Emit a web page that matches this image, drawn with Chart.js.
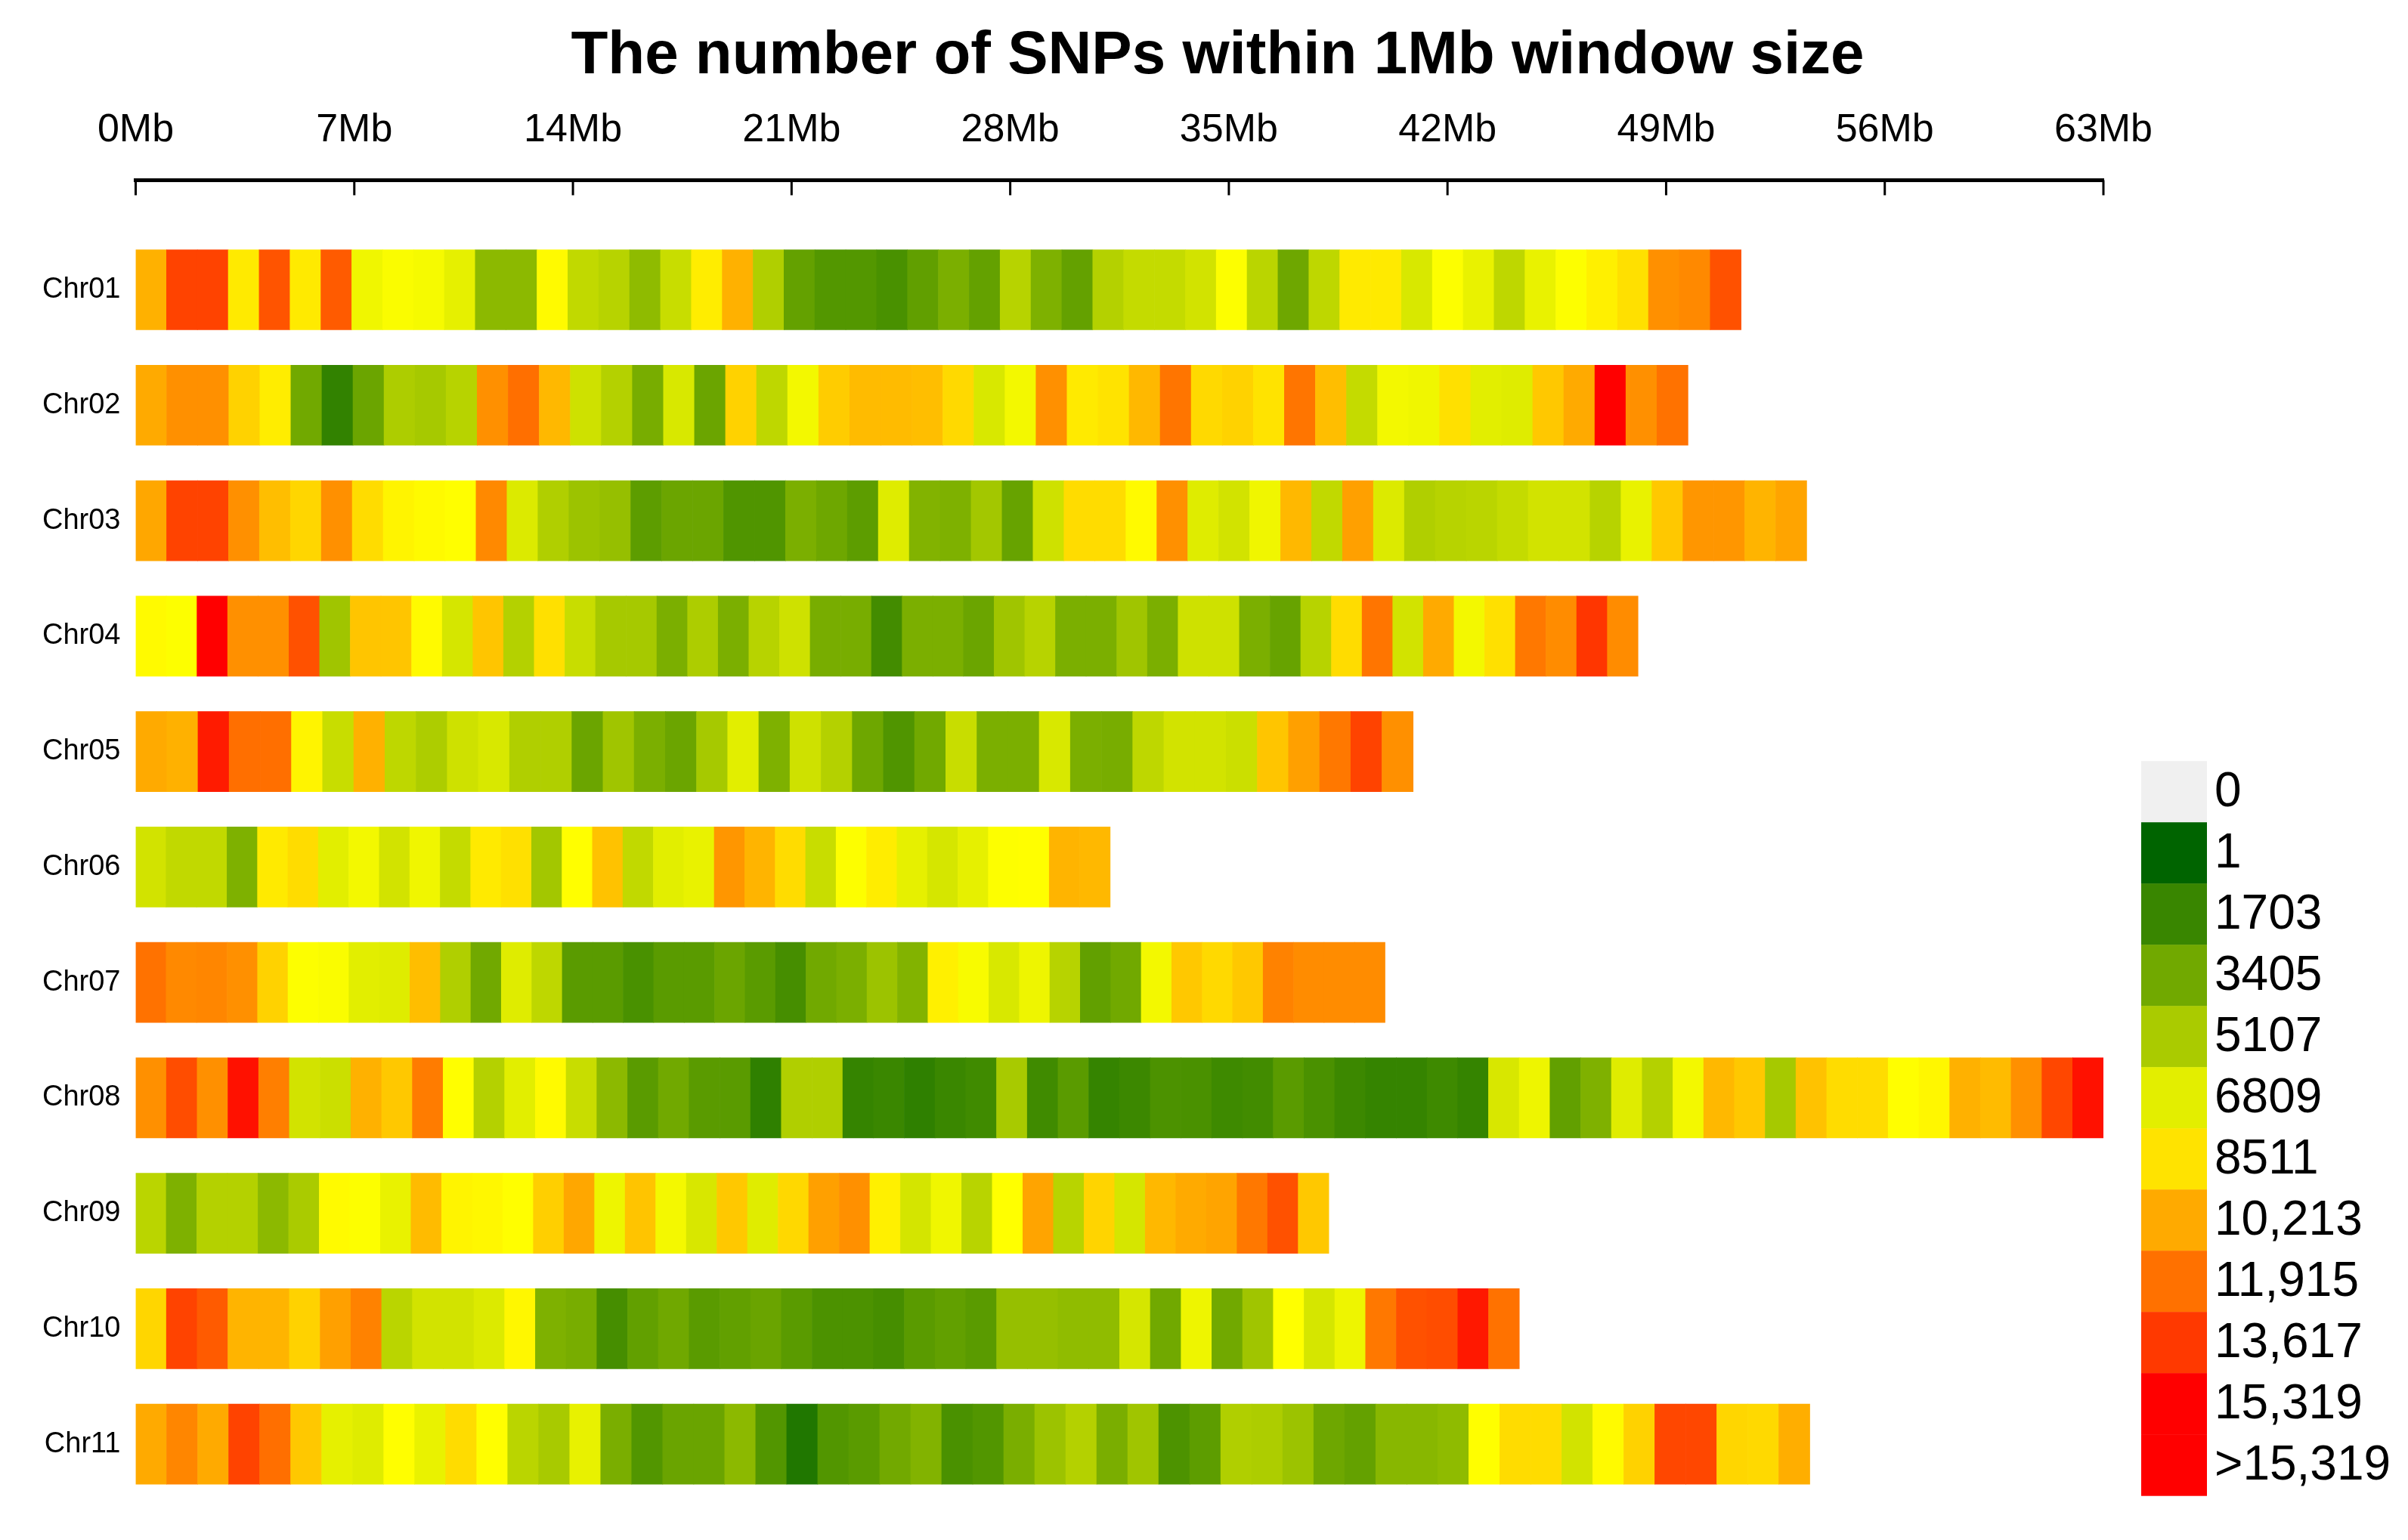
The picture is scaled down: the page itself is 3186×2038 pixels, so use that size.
<!DOCTYPE html>
<html>
<head>
<meta charset="utf-8">
<title>SNP density</title>
<script src="https://cdn.jsdelivr.net/npm/chart.js@4.4.1/dist/chart.umd.min.js"></script>
<style>
  html, body { margin: 0; padding: 0; background: #fff; }
  #wrap { width: 3186px; height: 2038px; }
</style>
</head>
<body>
<div id="wrap"><canvas id="snpChart"></canvas></div>
<script>
var chromosomes = ['Chr01', 'Chr02', 'Chr03', 'Chr04', 'Chr05', 'Chr06', 'Chr07', 'Chr08', 'Chr09', 'Chr10', 'Chr11'];
// chromosome lengths in Mb; each one is split into equal windows of about 1Mb
var chromLengths = [51.4, 49.7, 53.5, 48.1, 40.9, 31.2, 40.0, 63.0, 38.2, 44.3, 53.6];

// SNP count per window
var chr01 = [10000, 13300, 13300, 8300, 12800, 8300, 12600, 7200, 7500, 7400, 6900, 4200, 4200, 7800, 5800, 5500, 4300, 6000, 8200, 10000, 5300, 3000, 2500, 2500, 2200, 2900, 3700, 3000, 5500, 3800, 3000, 5400, 5900, 5900, 6300, 7600, 5600, 3300, 5700, 8300, 8300, 6500, 7600, 7000, 5700, 7000, 7600, 8100, 8600, 11000, 11200, 12900];
var chr02 = [10200, 11000, 11000, 9000, 8200, 3400, 1500, 3200, 5200, 5000, 5500, 11000, 12000, 9800, 6200, 5400, 3600, 6500, 3200, 9000, 5700, 7300, 9200, 9700, 9700, 9600, 8800, 6500, 7300, 11000, 8300, 8500, 9800, 11800, 8800, 9000, 8500, 11800, 9600, 5900, 7300, 7200, 8600, 6800, 6700, 9300, 10200, 15500, 11000, 11900];
var chr03 = [10300, 13300, 13300, 11000, 9600, 8900, 11000, 8700, 8000, 7800, 7700, 11200, 6600, 5300, 4700, 4500, 2800, 3200, 3200, 2400, 2400, 3700, 3300, 2800, 6700, 3900, 3800, 4900, 3100, 6200, 8700, 8700, 7800, 11000, 6700, 6300, 7200, 9800, 5800, 10500, 6600, 5300, 5500, 5600, 5900, 6300, 6300, 5500, 7000, 9300, 10800, 10800, 9900, 10400];
var chr04 = [7800, 7600, 15400, 11000, 11000, 12900, 4800, 9400, 9400, 7800, 6400, 9400, 5400, 8600, 6000, 5000, 5000, 3700, 5200, 3700, 5500, 6200, 3600, 3600, 2000, 3700, 3700, 3200, 4800, 5500, 3700, 3700, 4800, 3700, 6200, 6200, 3700, 3100, 5500, 8700, 11800, 6300, 10200, 7300, 8600, 11700, 11100, 13700, 11100];
var chr05 = [10200, 10000, 14500, 12000, 12000, 8000, 6000, 10000, 5700, 5200, 6200, 6500, 5300, 5300, 3200, 4800, 3700, 3200, 5000, 6800, 3800, 6200, 5400, 3300, 2400, 3400, 6000, 3700, 3700, 6500, 3700, 3600, 5700, 6300, 6300, 6100, 9400, 10500, 11700, 13300, 11000];
var chr06 = [6300, 5800, 5800, 3800, 8300, 8700, 6800, 7300, 6300, 7200, 5900, 8300, 8600, 4900, 7700, 9500, 5800, 6800, 7000, 10800, 9900, 8700, 6000, 7600, 8200, 6900, 6400, 6900, 7600, 7700, 9900, 9800];
var chr07 = [11900, 11200, 11300, 11000, 9000, 7600, 7500, 6800, 6700, 9600, 5300, 3400, 6700, 5700, 2700, 2700, 2200, 2700, 2700, 3200, 2700, 2100, 3400, 3700, 4700, 3900, 8100, 7450, 6500, 7150, 5500, 2950, 3400, 7300, 9300, 8800, 9300, 11400, 11100, 11100, 11100];
var chr08 = [11000, 13000, 11000, 14800, 11500, 6300, 6100, 10000, 9300, 11600, 7700, 5400, 6800, 7800, 6000, 4200, 2700, 3400, 2700, 2700, 1400, 5300, 5300, 1600, 1740, 1400, 1740, 1920, 5050, 1920, 2700, 1600, 1800, 2280, 2220, 1860, 1980, 2700, 2220, 1800, 1600, 1600, 1860, 1600, 6490, 7150, 2950, 3820, 6700, 5400, 7300, 9800, 9300, 5000, 9500, 8700, 8700, 7700, 7900, 10000, 9700, 11000, 13200, 14800];
var chr09 = [5600, 3800, 5400, 5400, 4200, 5100, 7800, 7600, 7000, 9700, 8000, 7900, 7700, 9100, 10300, 7150, 9430, 7330, 6490, 9300, 6730, 8830, 10500, 11000, 8100, 6370, 7210, 5530, 7660, 10400, 5530, 8950, 6400, 9800, 10200, 10400, 11700, 12900, 9300];
var chr10 = [8900, 13300, 12600, 9900, 9900, 9000, 10500, 11400, 5600, 6300, 6300, 6600, 7900, 3800, 3600, 2100, 2950, 3365, 2700, 2950, 3185, 2700, 2280, 2280, 2100, 2700, 2950, 2700, 4500, 4500, 4330, 4330, 6400, 3400, 7150, 3400, 4800, 7660, 6400, 7150, 11700, 12900, 13000, 14600, 11900];
var chr11 = [10200, 11300, 10200, 13300, 12000, 9300, 6900, 6700, 7700, 7000, 8700, 7700, 5600, 5050, 6970, 3665, 2470, 3185, 3185, 4200, 2470, 960, 2470, 2700, 3425, 3900, 2220, 2470, 3665, 4690, 5400, 3665, 4800, 2300, 2800, 5300, 5200, 4700, 3300, 3000, 4100, 4100, 4300, 7700, 8700, 8700, 6300, 7800, 9000, 13200, 13200, 8900, 8800, 10100];

var binsByChrom = [chr01, chr02, chr03, chr04, chr05, chr06, chr07, chr08, chr09, chr10, chr11];

// colour key
var legendValues = [0, 1, 1703, 3405, 5107, 6809, 8511, 10213, 11915, 13617, 15319, 15320];
var legendLabels = ['0', '1', '1703', '3405', '5107', '6809', '8511', '10,213', '11,915', '13,617', '15,319', '>15,319'];
var xTicks = [0, 7, 14, 21, 28, 35, 42, 49, 56, 63];

var fontFamily = '"Liberation Sans", Arial, Helvetica, sans-serif';

// darkgreen -> yellow -> red ramp over 1..15319
function snpColor(n) {
    if (n <= 0) return '#f0f0f0';
    var t = Math.min(1, (n - 1) / 15318);
    var r, g, f;
    if (t < 0.5) {
        f = t * 2;
        r = 255 * f;
        g = 100 + 155 * f;
    } else {
        f = (t - 0.5) * 2;
        r = 255;
        g = 255 * (1 - f);
    }
    return 'rgb(' + Math.round(r) + ',' + Math.round(g) + ',0)';
}

var datasets = binsByChrom.map(function(counts, row) {
    var w = chromLengths[row] / counts.length;
    return {
        label: chromosomes[row],
        data: counts.map(function(n, i) {
            return { x: [i * w, (i + 1) * w], y: row, n: n };
        }),
        backgroundColor: counts.map(snpColor),
        borderWidth: 0,
        barThickness: 106,
        grouped: false
    };
});

var downTicks = {
    id: 'downTicks',
    afterDraw: function(chart) {
        var xs = chart.scales.x;
        var ctx = chart.ctx;
        var top = chart.chartArea.top;
        ctx.save();
        ctx.strokeStyle = '#000';
        ctx.lineWidth = 3;
        xs.ticks.forEach(function(t, i) {
            var px = xs.getPixelForTick(i);
            ctx.beginPath();
            ctx.moveTo(px, top);
            ctx.lineTo(px, top + 20);
            ctx.stroke();
        });
        ctx.restore();
    }
};

var colorKey = {
    id: 'colorKey',
    afterDraw: function(chart) {
        var ctx = chart.ctx;
        var area = chart.chartArea;
        var w = 87, h = 81;
        var left = area.right + 50;
        var top = area.bottom - 16 - h * legendLabels.length;
        ctx.save();
        ctx.font = '64px ' + fontFamily;
        ctx.textBaseline = 'middle';
        ctx.textAlign = 'left';
        legendLabels.forEach(function(lab, i) {
            ctx.fillStyle = snpColor(legendValues[i]);
            ctx.fillRect(left, top + i * h, w, h + 0.5);
            ctx.fillStyle = '#000';
            ctx.fillText(lab, left + w + 10, top + i * h + h / 2 + 2);
        });
        ctx.restore();
    }
};

new Chart(document.getElementById('snpChart').getContext('2d'), {
    type: 'bar',
    data: { datasets: datasets },
    options: {
        indexAxis: 'y',
        responsive: true,
        maintainAspectRatio: false,
        animation: false,
        devicePixelRatio: 1,
        layout: { padding: { left: 36, right: 0, top: 0, bottom: 32 } },
        plugins: {
            legend: { display: false },
            tooltip: { enabled: false },
            title: {
                display: true,
                text: 'The number of SNPs within 1Mb window size',
                color: '#000',
                font: { family: fontFamily, size: 80, weight: 'bold' },
                padding: { top: 27, bottom: -17 }
            }
        },
        scales: {
            x: {
                type: 'linear',
                position: 'top',
                min: 0,
                max: 63,
                afterBuildTicks: function(scale) {
                    scale.ticks = xTicks.map(function(v) { return { value: v }; });
                },
                ticks: {
                    color: '#000',
                    font: { family: fontFamily, size: 52 },
                    padding: 35,
                    maxRotation: 0,
                    autoSkip: false,
                    callback: function(v) { return v + 'Mb'; }
                },
                grid: { display: false, drawTicks: false },
                border: { display: true, color: '#000', width: 5 }
            },
            y: {
                type: 'linear',
                reverse: true,
                offset: false,
                min: -0.95,
                max: 10.55,
                afterBuildTicks: function(scale) {
                    scale.ticks = chromosomes.map(function(c, i) { return { value: i }; });
                },
                ticks: {
                    color: '#000',
                    font: { family: fontFamily, size: 38 },
                    padding: 20,
                    autoSkip: false,
                    callback: function(v) { return chromosomes[v] || ''; }
                },
                grid: { display: false, drawTicks: false, offset: false },
                border: { display: false }
            },
            // empty axis that keeps room for the colour key on the right
            keySpace: {
                type: 'linear',
                axis: 'y',
                position: 'right',
                display: true,
                ticks: { display: false },
                grid: { display: false, drawTicks: false },
                border: { display: false },
                afterFit: function(scale) { scale.width = 403; }
            }
        }
    },
    plugins: [downTicks, colorKey]
});
</script>
</body>
</html>
